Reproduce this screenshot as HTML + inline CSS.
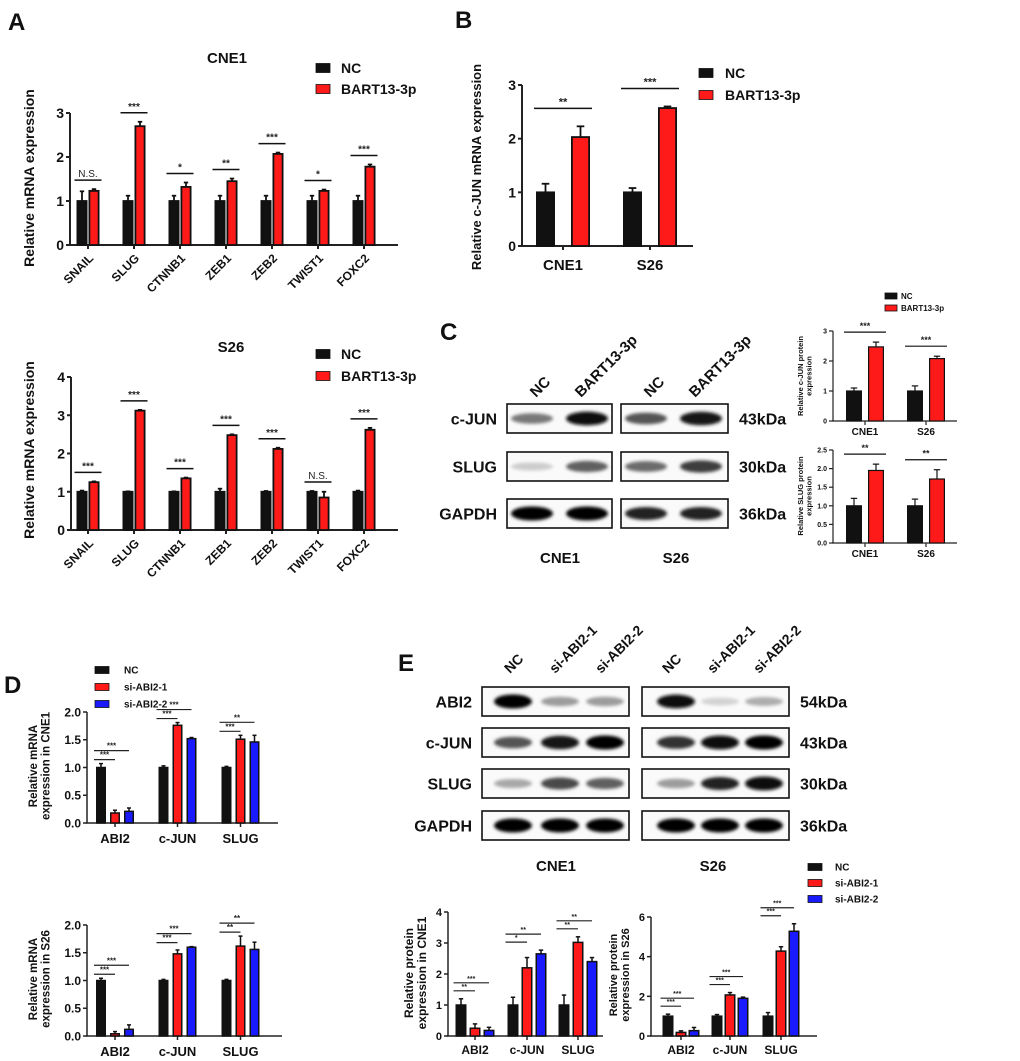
<!DOCTYPE html>
<html><head><meta charset="utf-8">
<style>
html,body{margin:0;padding:0;background:#fff;}
svg{display:block;font-family:"Liberation Sans",Arial,sans-serif;font-weight:bold;}
</style></head>
<body>
<svg id="fig" width="1020" height="1061" viewBox="0 0 1020 1061" xmlns="http://www.w3.org/2000/svg">
<defs>
<filter id="blur" x="-30%" y="-100%" width="160%" height="300%"><feGaussianBlur stdDeviation="1.6"/></filter>
</defs>
<g font-size="24" fill="#111">
<text x="8" y="30">A</text>
<text x="455" y="28">B</text>
<text x="440" y="340">C</text>
<text x="4" y="693">D</text>
<text x="398" y="671">E</text>
</g>
</svg>
<script>
// ---------- DATA ----------
const catsA = ["SNAIL","SLUG","CTNNB1","ZEB1","ZEB2","TWIST1","FOXC2"];
const aCNE1_nc = [1,1,1,1,1,1,1];
const aCNE1_nc_err = [0.22,0.12,0.12,0.12,0.12,0.12,0.12];
const aCNE1_bart = [1.23,2.70,1.32,1.45,2.07,1.23,1.78];
const aCNE1_bart_err = [0.04,0.10,0.10,0.06,0.03,0.03,0.05];
const aCNE1_sig = ["N.S.","***","*","**","***","*","***"];
const aS26_nc = [1,1,1,1,1,1,1];
const aS26_nc_err = [0.03,0.01,0.01,0.08,0.02,0.02,0.03];
const aS26_bart = [1.25,3.12,1.35,2.48,2.12,0.85,2.62];
const aS26_bart_err = [0.02,0.02,0.02,0.02,0.03,0.15,0.05];
const aS26_sig = ["***","***","***","***","***","N.S.","***"];
const ticksA1 = [0,1,2,3];
const ticksA2 = [0,1,2,3,4];

const catsB = ["CNE1","S26"];
const b_nc = [1,1];
const b_nc_err = [0.16,0.08];
const b_bart = [2.03,2.57];
const b_bart_err = [0.20,0.03];
const b_sig = ["**","***"];
const ticksB = [0,1,2,3];

const cJun_nc = [1,1];
const cJun_nc_err = [0.10,0.17];
const cJun_bart = [2.47,2.08];
const cJun_bart_err = [0.16,0.08];
const cJun_sig = ["***","***"];
const ticksC1 = [0,1,2,3];
const cSlug_nc = [1,1];
const cSlug_nc_err = [0.20,0.18];
const cSlug_bart = [1.95,1.72];
const cSlug_bart_err = [0.17,0.25];
const cSlug_sig = ["**","**"];
const ticksC2 = [0,0.5,1.0,1.5,2.0,2.5];

const catsD = ["ABI2","c-JUN","SLUG"];
const dCNE1_nc = [1,1,1];
const dCNE1_nc_err = [0.07,0.03,0.02];
const dCNE1_si1 = [0.18,1.76,1.51];
const dCNE1_si1_err = [0.05,0.05,0.07];
const dCNE1_si2 = [0.21,1.52,1.46];
const dCNE1_si2_err = [0.06,0.02,0.12];
const dCNE1_sig1 = ["***","***","***"];
const dCNE1_sig2 = ["***","***","**"];
const dS26_nc = [1,1,1];
const dS26_nc_err = [0.04,0.02,0.02];
const dS26_si1 = [0.04,1.48,1.62];
const dS26_si1_err = [0.04,0.07,0.18];
const dS26_si2 = [0.12,1.60,1.56];
const dS26_si2_err = [0.08,0.01,0.13];
const dS26_sig1 = ["***","***","**"];
const dS26_sig2 = ["***","***","**"];
const ticksD = [0,0.5,1.0,1.5,2.0];

const eCNE1_nc = [1,1,1];
const eCNE1_nc_err = [0.20,0.25,0.32];
const eCNE1_si1 = [0.25,2.20,3.02];
const eCNE1_si1_err = [0.14,0.33,0.18];
const eCNE1_si2 = [0.18,2.65,2.40];
const eCNE1_si2_err = [0.10,0.12,0.13];
const eCNE1_sig1 = ["**","*","**"];
const eCNE1_sig2 = ["***","**","**"];
const ticksE1 = [0,1,2,3,4];
const eS26_nc = [1,1,1];
const eS26_nc_err = [0.10,0.08,0.18];
const eS26_si1 = [0.18,2.07,4.28];
const eS26_si1_err = [0.08,0.12,0.22];
const eS26_si2 = [0.27,1.90,5.28];
const eS26_si2_err = [0.16,0.06,0.38];
const eS26_sig1 = ["***","***","***"];
const eS26_sig2 = ["***","***","***"];
const ticksE2 = [0,2,4,6];

// blot band intensities (0..1) per lane
const blotC_rows = ["c-JUN","SLUG","GAPDH"];
const blotC_kda = ["43kDa","30kDa","36kDa"];
const blotC_int = [[0.5,0.95,0.65,0.92],[0.15,0.6,0.55,0.75],[1,1,0.85,0.85]];
const blotE_rows = ["ABI2","c-JUN","SLUG","GAPDH"];
const blotE_kda = ["54kDa","43kDa","30kDa","36kDa"];
const blotE_int = [[1,0.35,0.35,0.95,0.12,0.28],[0.65,0.92,1,0.8,0.97,1],[0.3,0.7,0.6,0.35,0.85,0.97],[1,1,1,1,1,1]];

// ---------- DRAWING ----------
const NS = "http://www.w3.org/2000/svg";
const svg = document.getElementById("fig");
function mk(tag, attrs, parent, text){
  const e = document.createElementNS(NS, tag);
  for (const k in attrs) e.setAttribute(k, attrs[k]);
  if (text !== undefined) e.textContent = text;
  (parent||svg).appendChild(e);
  return e;
}

function chart(o){
  const g = mk("g", {});
  
  
  const yS = v => o.yb - (v/o.ymax)*(o.yb-o.yt);
  const lw = o.lw || 2;
  const ax = mk("line",{x1:o.ax,y1:o.yt,x2:o.ax,y2:o.yb,stroke:"#222","stroke-width":lw},g);
  
  
  const xa = mk("line",{x1:o.ax-1,y1:o.yb,x2:o.x1,y2:o.yb,stroke:"#222","stroke-width":lw},g);
  
  
  o.ticks.forEach(t=>{
    const y = yS(t);
    mk("line",{x1:o.ax-4,y1:y,x2:o.ax,y2:y,stroke:"#222","stroke-width":lw},g);
    const tl = mk("text",{x:o.ax-6,y:y+o.tfs*0.36,"text-anchor":"end","font-size":o.tfs,fill:"#111"},g,o.fmt(t));
    
    
  });
  const n = o.series.length;
  const total = n*o.barW + (n-1)*o.gap;
  o.centers.forEach((c,i)=>{
    mk("line",{x1:c,y1:o.yb,x2:c,y2:o.yb+4,stroke:"#222","stroke-width":lw},g);
    let tops = [];
    o.series.forEach((s,j)=>{
      const x = c - total/2 + j*(o.barW+o.gap);
      const v = s[i], e = o.errs[j][i];
      const yt = yS(v), ye = yS(v+e);
      tops.push(ye);
      const bw = o.barStroke || 1.8;
      mk("line",{x1:x+o.barW/2,y1:ye,x2:x+o.barW/2,y2:yt,stroke:"#111","stroke-width":bw},g);
      mk("line",{x1:x+o.barW/2-o.barW*0.2,y1:ye,x2:x+o.barW/2+o.barW*0.2,y2:ye,stroke:"#111","stroke-width":bw},g);
      const r = mk("rect",{x:x+bw/2,y:yt,width:Math.max(o.barW-bw,1),height:Math.max(o.yb-yt,0),fill:o.colors[j],stroke:"#111","stroke-width":bw},g);
      
      
    });
    if (o.rot){
      const cl = mk("text",{x:c+6,y:o.yb+o.catDy,"text-anchor":"end","font-size":o.cfs,fill:"#111",transform:`rotate(-45 ${c+6} ${o.yb+o.catDy})`},g,o.cats[i]);
      
      
    } else {
      const cl = mk("text",{x:c,y:o.yb+o.catDy,"text-anchor":"middle","font-size":o.cfs,fill:"#111"},g,o.cats[i]);
      
      
    }
    const left = c - total/2 - 2;
    if (o.sig){
      const y = Math.min(...tops) - o.sigPad;
      mk("line",{x1:left,y1:y,x2:c+total/2+2,y2:y,stroke:"#111","stroke-width":o.sigLw||1.5},g);
      const s = mk("text",{x:c,y:y-3,"text-anchor":"middle","font-size":o.sfs,"font-weight":o.sig[i]==="N.S."?"normal":"bold",fill:"#222"},g,o.sig[i]);
      
      
    }
    if (o.sig1){
      const y1 = Math.min(...tops) - o.sigPad;
      const y2 = y1 - o.sigStep;
      const c1 = c - total/2 + 1*(o.barW+o.gap) + o.barW/2;
      const c2 = c - total/2 + 2*(o.barW+o.gap) + o.barW/2;
      mk("line",{x1:left,y1:y1,x2:c1,y2:y1,stroke:"#222","stroke-width":1.2},g);
      mk("line",{x1:left,y1:y2,x2:c2,y2:y2,stroke:"#222","stroke-width":1.2},g);
      const s1 = mk("text",{x:(left+c1)/2,y:y1-2,"text-anchor":"middle","font-size":o.sfs,fill:"#222"},g,o.sig1[i]);
      
      
      const s2 = mk("text",{x:(left+c2)/2,y:y2-2,"text-anchor":"middle","font-size":o.sfs,fill:"#222"},g,o.sig2[i]);
      
      
    }
  });
  const cy = o.ylY || (o.yt+o.yb)/2;
  o.ylabel.forEach((line,k)=>{
    const x = o.ylX + k*o.ylfs*1.1;
    const yl = mk("text",{x:x,y:cy,"text-anchor":"middle","font-size":o.ylfs,fill:"#111",transform:`rotate(-90 ${x} ${cy})`},g,line);
    
    
  });
  return g;
}

function legend(x,y,step,labels,colors,fs,bw,bh,tx){
  labels.forEach((l,i)=>{
    const r = mk("rect",{x:x,y:y+i*step-bh/2,width:bw,height:bh,fill:colors[i],stroke:"#111","stroke-width":0.8});
    
    
    const t = mk("text",{x:tx,y:y+i*step+fs*0.36,"font-size":fs,fill:"#111"},svg,l);
    
    
  });
}
function txt(x,y,s,fs,name,anchor,rot){
  const a = {x:x,y:y,"font-size":fs,fill:"#111","text-anchor":anchor||"middle"};
  if (rot) a.transform = `rotate(${rot} ${x} ${y})`;
  const t = mk("text",a,svg,s);
  
  
  return t;
}

const f0 = v=>String(v), f1 = v=>v.toFixed(1);
const RB = ["#111","#ff1a1a"], RBB = ["#111","#ff1a1a","#1a1aff"];

// Panel A top
txt(227,63,"CNE1",15,"chart-title-a-cne1");
legend(316,68,21,["NC","BART13-3p"],RB,14,14,9,341);
chart({name:"chart-a-cne1",ax:70,x1:398,yt:113,yb:245,ymax:3,ticks:ticksA1,fmt:f0,tfs:14,
  centers:[88,134,180,226,272,318,364],barW:11,gap:1,series:[aCNE1_nc,aCNE1_bart],errs:[aCNE1_nc_err,aCNE1_bart_err],
  colors:RB,keys:["nc","bart13-3p"],cats:catsA,rot:true,catDy:14,cfs:12,sig:aCNE1_sig,sigPad:9,sfs:10,sigLw:1.5,
  ylabel:["Relative mRNA expression"],ylX:34,ylfs:14,ylY:178});

// Panel A bottom
txt(231,352,"S26",15,"chart-title-a-s26");
legend(316,354,22,["NC","BART13-3p"],RB,14,14,9,341);
chart({name:"chart-a-s26",ax:71,x1:398,yt:377,yb:530,ymax:4,ticks:ticksA2,fmt:f0,tfs:14,
  centers:[88,134,180,226,272,318,364],barW:11,gap:1,series:[aS26_nc,aS26_bart],errs:[aS26_nc_err,aS26_bart_err],
  colors:RB,keys:["nc","bart13-3p"],cats:catsA,rot:true,catDy:14,cfs:12,sig:aS26_sig,sigPad:9,sfs:10,sigLw:1.5,
  ylabel:["Relative mRNA expression"],ylX:34,ylfs:14,ylY:450});

// Panel B
legend(699,73,22,["NC","BART13-3p"],RB,14,14,9,725);
chart({name:"chart-b-cjun-mrna",ax:522,x1:693,yt:85,yb:246,ymax:3,ticks:ticksB,fmt:f0,tfs:14,
  centers:[563,650],barW:19,gap:16,series:[b_nc,b_bart],errs:[b_nc_err,b_bart_err],
  colors:RB,keys:["nc","bart13-3p"],cats:catsB,rot:false,catDy:24,cfs:15,sig:b_sig,sigPad:18,sfs:11,sigLw:1.5,
  ylabel:["Relative c-JUN mRNA expression"],ylX:481,ylfs:13,ylY:167});

// Panel C small charts
legend(885,296,12,["NC","BART13-3p"],RB,8,12,6,901);
chart({name:"chart-c-cjun-protein",ax:833,x1:957,yt:331,yb:421,ymax:3,ticks:ticksC1,fmt:f0,tfs:7,lw:1.2,barStroke:1.2,
  centers:[865,926],barW:16,gap:6,series:[cJun_nc,cJun_bart],errs:[cJun_nc_err,cJun_bart_err],
  colors:RB,keys:["nc","bart13-3p"],cats:catsB,rot:false,catDy:14,cfs:10,sig:cJun_sig,sigPad:10,sfs:9,sigLw:1.2,
  ylabel:["Relative c-JUN protein","expression"],ylX:803,ylfs:7.5,ylY:376});
chart({name:"chart-c-slug-protein",ax:833,x1:957,yt:450,yb:543,ymax:2.5,ticks:ticksC2,fmt:f1,tfs:7,lw:1.2,barStroke:1.2,
  centers:[865,926],barW:16,gap:6,series:[cSlug_nc,cSlug_bart],errs:[cSlug_nc_err,cSlug_bart_err],
  colors:RB,keys:["nc","bart13-3p"],cats:catsB,rot:false,catDy:14,cfs:10,sig:cSlug_sig,sigPad:10,sfs:9,sigLw:1.2,
  ylabel:["Relative SLUG protein","expression"],ylX:803,ylfs:7.5,ylY:496});

// Blots
function blot(rowsY, boxes, lanes, ints, rows, kda, rowH, labelX, kdaX, widths, prefix){
  rows.forEach((r,ri)=>{
    const y = rowsY[ri];
    boxes.forEach((b,bi)=>{
      const box = mk("rect",{x:b[0],y:y,width:b[1]-b[0],height:rowH,fill:"#fafafa",stroke:"#111","stroke-width":1.6});
      
      
    });
    lanes.forEach((lx,li)=>{
      const v = ints[ri][li];
      const gcol = Math.round(240 - v*240);
      const band = mk("ellipse",{cx:lx,cy:y+rowH/2,rx:widths/2,ry:3.5+v*3.5,fill:`rgb(${gcol},${gcol},${gcol})`,filter:"url(#blur)"});
      
      
    });
    txt(labelX,y+rowH/2+6,r,16,prefix+'-row-label','end');
    txt(kdaX,y+rowH/2+6,kda[ri],16,prefix+'-kda-label','start');
  });
}
blot([404,452,499],[[507,612],[621,728]],[532,587,646,701],blotC_int,blotC_rows,blotC_kda,29,497,739,42,"c");
txt(536,398,"NC",15,"lane-label-nc","start",-45);
txt(581,398,"BART13-3p",15,"lane-label-bart","start",-45);
txt(650,398,"NC",15,"lane-label-nc","start",-45);
txt(695,398,"BART13-3p",15,"lane-label-bart","start",-45);
txt(560,563,"CNE1",15,"blot-cell-label");
txt(676,563,"S26",15,"blot-cell-label");

blot([687,728,769,811],[[482,629],[642,789]],[513,560,605,676,720,764],blotE_int,blotE_rows,blotE_kda,29,472,800,38,"e");
[["NC",510],["si-ABI2-1",555],["si-ABI2-2",601],["NC",668],["si-ABI2-1",713],["si-ABI2-2",759]].forEach(p=>{
  txt(p[1],674,p[0],14,"lane-label","start",-45);
});
txt(556,871,"CNE1",15,"blot-cell-label");
txt(713,871,"S26",15,"blot-cell-label");

// Panel D
legend(95,670,17,["NC","si-ABI2-1","si-ABI2-2"],RBB,10,14,7,124);
chart({name:"chart-d-cne1",ax:87,x1:278,yt:712,yb:823,ymax:2,ticks:ticksD,fmt:f1,tfs:12,lw:1.5,barStroke:1.5,
  centers:[115,177.5,240.5],barW:10,gap:4,series:[dCNE1_nc,dCNE1_si1,dCNE1_si2],errs:[dCNE1_nc_err,dCNE1_si1_err,dCNE1_si2_err],
  colors:RBB,keys:["nc","si1","si2"],cats:catsD,rot:false,catDy:20,cfs:13,sig1:dCNE1_sig1,sig2:dCNE1_sig2,sigPad:4,sigStep:9,sfs:8,
  ylabel:["Relative mRNA","expression in CNE1"],ylX:37,ylfs:11.5,ylY:766});
chart({name:"chart-d-s26",ax:87,x1:282,yt:925,yb:1036,ymax:2,ticks:ticksD,fmt:f1,tfs:12,lw:1.5,barStroke:1.5,
  centers:[115,177.5,240.5],barW:10,gap:4,series:[dS26_nc,dS26_si1,dS26_si2],errs:[dS26_nc_err,dS26_si1_err,dS26_si2_err],
  colors:RBB,keys:["nc","si1","si2"],cats:catsD,rot:false,catDy:20,cfs:13,sig1:dS26_sig1,sig2:dS26_sig2,sigPad:4,sigStep:9,sfs:8,
  ylabel:["Relative mRNA","expression in S26"],ylX:37,ylfs:11.5,ylY:979});

// Panel E bottom
legend(808,867,16,["NC","si-ABI2-1","si-ABI2-2"],RBB,10,14,7,835);
chart({name:"chart-e-cne1-protein",ax:448,x1:603,yt:912,yb:1036,ymax:4,ticks:ticksE1,fmt:f0,tfs:11,lw:1.5,barStroke:1.5,
  centers:[475,527,578],barW:11,gap:3,series:[eCNE1_nc,eCNE1_si1,eCNE1_si2],errs:[eCNE1_nc_err,eCNE1_si1_err,eCNE1_si2_err],
  colors:RBB,keys:["nc","si1","si2"],cats:catsD,rot:false,catDy:18,cfs:12,sig1:eCNE1_sig1,sig2:eCNE1_sig2,sigPad:8,sigStep:8,sfs:7,
  ylabel:["Relative protein","expression in CNE1"],ylX:413,ylfs:12,ylY:973});
chart({name:"chart-e-s26-protein",ax:651,x1:817,yt:917,yb:1036,ymax:6,ticks:ticksE2,fmt:f0,tfs:11,lw:1.5,barStroke:1.5,
  centers:[681,730,781],barW:11,gap:2,series:[eS26_nc,eS26_si1,eS26_si2],errs:[eS26_nc_err,eS26_si1_err,eS26_si2_err],
  colors:RBB,keys:["nc","si1","si2"],cats:catsD,rot:false,catDy:18,cfs:12,sig1:eS26_sig1,sig2:eS26_sig2,sigPad:8,sigStep:8,sfs:7,
  ylabel:["Relative protein","expression in S26"],ylX:617,ylfs:11,ylY:975});
</script>
</body></html>
